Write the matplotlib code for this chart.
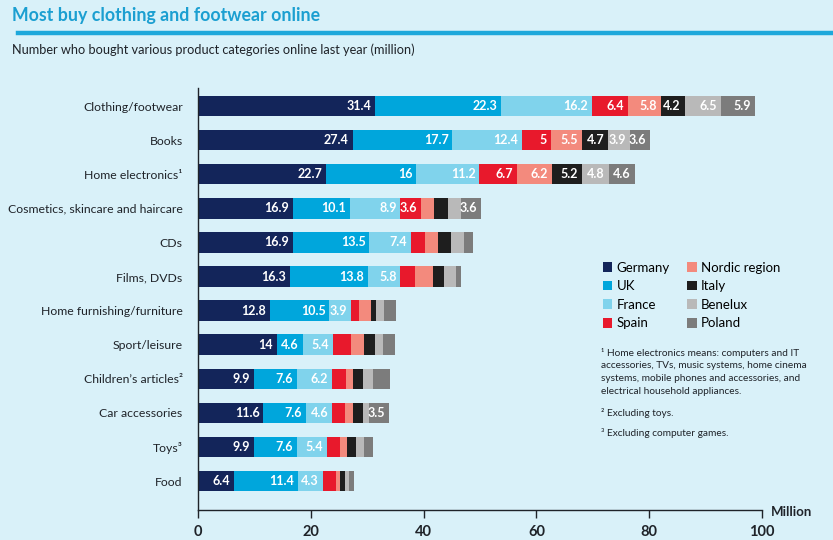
"""
Online purchases by product category and country, stacked bars.
"""

import matplotlib.pyplot as plt
from matplotlib.patches import Patch
import numpy as np

plt.rcParams["font.family"] = ["Lato", "DejaVu Sans"]

BG = "#d9f1f9"
TEXT = "#1f2329"

categories = [
    "Clothing/footwear",
    "Books",
    "Home electronics\u00b9",
    "Cosmetics, skincare and haircare",
    "CDs",
    "Films, DVDs",
    "Home furnishing/furniture",
    "Sport/leisure",
    "Children\u2019s articles\u00b2",
    "Car accessories",
    "Toys\u00b3",
    "Food",
]
countries = ["Germany", "UK", "France", "Spain", "Nordic region", "Italy", "Benelux", "Poland"]
colors = ["#13255a", "#00a6dc", "#80d3ec", "#e8192c", "#f38a7d", "#1e1e1e", "#b9b9b9", "#7c7c7c"]

germany = [31.4, 27.4, 22.7, 16.9, 16.9, 16.3, 12.8, 14.0, 9.9, 11.6, 9.9, 6.4]
uk = [22.3, 17.7, 16.0, 10.1, 13.5, 13.8, 10.5, 4.6, 7.6, 7.6, 7.6, 11.4]
france = [16.2, 12.4, 11.2, 8.9, 7.4, 5.8, 3.9, 5.4, 6.2, 4.6, 5.4, 4.3]
spain = [6.4, 5.0, 6.7, 3.6, 2.4, 2.5, 1.4, 3.2, 2.5, 2.3, 2.3, 2.3]
nordic = [5.8, 5.5, 6.2, 2.3, 2.3, 3.3, 2.0, 2.2, 1.3, 1.3, 1.3, 0.8]
italy = [4.2, 4.7, 5.2, 2.6, 2.4, 1.9, 0.9, 1.9, 1.7, 1.9, 1.5, 0.9]
benelux = [6.5, 3.9, 4.8, 2.2, 2.3, 2.1, 1.5, 1.5, 1.9, 1.0, 1.4, 0.7]
poland = [5.9, 3.6, 4.6, 3.6, 1.6, 1.0, 2.1, 2.2, 2.9, 3.5, 1.6, 0.9]

series = [germany, uk, france, spain, nordic, italy, benelux, poland]

footnotes = [
    "\u00b9 Home electronics means: computers and IT\n"
    "accessories, TVs, music systems, home cinema\n"
    "systems, mobile phones and accessories, and\n"
    "electrical household appliances.",
    "\u00b2 Excluding toys.",
    "\u00b3 Excluding computer games.",
]

fig = plt.figure(figsize=(8.33, 5.4), dpi=100)
fig.patch.set_facecolor(BG)
ax = fig.add_axes([198 / 833, 1 - 510 / 540, 564 / 833, 422 / 540])
ax.set_facecolor(BG)

y = np.arange(len(categories))
left = np.zeros(len(categories))
for name, vals, col in zip(countries, series, colors):
    vals = np.array(vals)
    ax.barh(y, vals, left=left, height=0.6, color=col, label=name)
    for yi, (l, v) in enumerate(zip(left, vals)):
        if v >= 3.5:
            ax.text(l + v - 0.7, yi, f"{v:g}", ha="right", va="center",
                    color="white", fontsize=9, fontweight="bold")
    left += vals

ax.set_xlim(0, 100)
ax.set_ylim(11.85, -0.53)
ax.set_yticks(y)
ax.set_yticklabels(categories, fontsize=8.8, color=TEXT)
ax.tick_params(axis="y", length=0, pad=11)
ax.set_xticks(range(0, 101, 20))
ax.tick_params(axis="x", length=6, width=1, color=TEXT, labelsize=10.5,
               labelcolor=TEXT, pad=5)
for lab in ax.get_xticklabels():
    lab.set_fontweight("bold")
for side in ["top", "right"]:
    ax.spines[side].set_visible(False)
for side in ["left", "bottom"]:
    ax.spines[side].set_color(TEXT)
    ax.spines[side].set_linewidth(1)

fig.text(771 / 833, 1 - 512 / 540, "Million", fontsize=9.5, fontweight="bold",
         color=TEXT, va="center", ha="left")

# header
fig.text(12 / 833, 1 - 16 / 540, "Most buy clothing and footwear online",
         fontsize=12.8, fontweight="bold", color="#1b9fd1", va="center")
fig.add_artist(plt.Line2D([18 / 833, 1], [1 - 33 / 540] * 2, color="#1ea8db",
                          linewidth=3.2))
fig.text(12 / 833, 1 - 50 / 540,
         "Number who bought various product categories online last year (million)",
         fontsize=9.2, color=TEXT, va="center")

handles = [Patch(facecolor=c, label=n) for n, c in zip(countries, colors)]
fig.legend(handles=handles, ncol=2, loc="upper left",
           bbox_to_anchor=(596 / 833, 1 - 255 / 540), frameon=False,
           fontsize=9.5, handlelength=0.75, handleheight=0.75, handletextpad=0.3,
           columnspacing=1.3, labelspacing=0.5, borderpad=0)

fig.text(601 / 833, 1 - 348 / 540, footnotes[0], fontsize=7.3, color=TEXT,
         va="top", linespacing=1.5)
fig.text(601 / 833, 1 - 413 / 540, footnotes[1], fontsize=7.3, color=TEXT, va="center")
fig.text(601 / 833, 1 - 433 / 540, footnotes[2], fontsize=7.3, color=TEXT, va="center")

fig.savefig("out.png", dpi=100, facecolor=BG)
